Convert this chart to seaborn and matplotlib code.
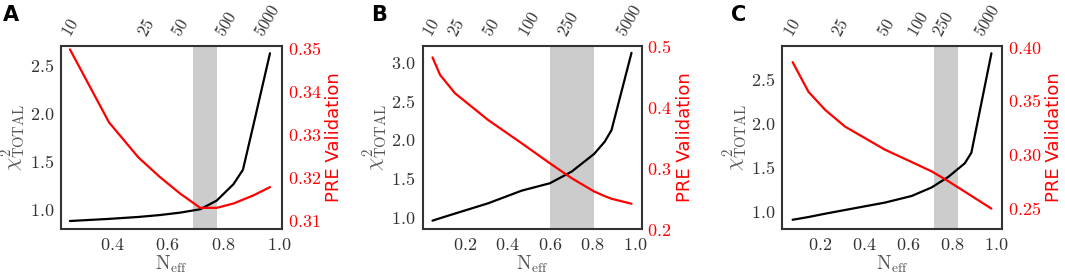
import matplotlib
matplotlib.use("Agg")
import matplotlib.pyplot as plt
from matplotlib.ticker import FixedLocator, FuncFormatter
import pandas as pd
import seaborn as sns

# Panel A
a_neff = [0.25, 0.39, 0.495, 0.573, 0.645, 0.717, 0.776, 0.836, 0.87, 0.908, 0.967]
a_chi2 = [0.878, 0.90, 0.92, 0.94, 0.965, 1.0, 1.09, 1.26, 1.41, 1.88, 2.62]
a_pre = [0.3496, 0.3327, 0.3246, 0.3200, 0.3162, 0.3129, 0.3129, 0.3139, 0.3148, 0.3158, 0.3177]
a_top_pos = [0.25, 0.525, 0.647, 0.81, 0.96]
a_top_lab = ["10", "25", "50", "500", "5000"]
a_band = (0.69, 0.778)

# Panel B
b_neff = [0.047, 0.083, 0.153, 0.309, 0.466, 0.599, 0.701, 0.807, 0.857, 0.889, 0.983]
b_chi2 = [0.948, 0.98, 1.04, 1.173, 1.336, 1.432, 1.582, 1.811, 1.97, 2.12, 3.12]
b_pre = [0.482, 0.453, 0.423, 0.379, 0.341, 0.308, 0.2836, 0.2617, 0.254, 0.2497, 0.2415]
b_top_pos = [0.044, 0.161, 0.325, 0.505, 0.685, 0.975]
b_top_lab = ["10", "25", "50", "100", "250", "5000"]
b_band = (0.6, 0.805)

# Panel C
c_neff = [0.075, 0.147, 0.223, 0.313, 0.494, 0.615, 0.705, 0.781, 0.856, 0.886, 0.977]
c_chi2 = [0.899, 0.93, 0.968, 1.01, 1.094, 1.169, 1.265, 1.385, 1.54, 1.66, 2.79]
c_pre = [0.3855, 0.3578, 0.3409, 0.3254, 0.3039, 0.2924, 0.2838, 0.2746, 0.2648, 0.2609, 0.249]
c_top_pos = [0.072, 0.29, 0.50, 0.645, 0.758, 0.96]
c_top_lab = ["10", "25", "50", "100", "250", "5000"]
c_band = (0.716, 0.826)

sns.set_style("white")
plt.rcParams["mathtext.fontset"] = "cm"
plt.rcParams["font.family"] = ["DejaVu Sans"]

GREY = "#333333"
TS = 13  # tick label size

panels = [
    dict(letter="A", lx=3, neff=a_neff, chi2=a_chi2, pre=a_pre, top_pos=a_top_pos, top_lab=a_top_lab,
         band=a_band, rect=[61, 282], xlim=(0.218, 1.01), xt=[0.4, 0.6, 0.8, 1.0],
         ylim=(0.795, 2.70), yt=[1.0, 1.5, 2.0, 2.5],
         rlim=(0.308, 0.3505), rt=[0.31, 0.32, 0.33, 0.34, 0.35], rfmt="%.2f"),
    dict(letter="B", lx=371, neff=b_neff, chi2=b_chi2, pre=b_pre, top_pos=b_top_pos, top_lab=b_top_lab,
         band=b_band, rect=[422.5, 641.5], xlim=(0.0, 1.03), xt=[0.2, 0.4, 0.6, 0.8, 1.0],
         ylim=(0.84, 3.215), yt=[1.0, 1.5, 2.0, 2.5, 3.0],
         rlim=(0.2, 0.5015), rt=[0.2, 0.3, 0.4, 0.5], rfmt="%.1f"),
    dict(letter="C", lx=731, neff=c_neff, chi2=c_chi2, pre=c_pre, top_pos=c_top_pos, top_lab=c_top_lab,
         band=c_band, rect=[782.5, 1002], xlim=(0.029, 1.025), xt=[0.2, 0.4, 0.6, 0.8, 1.0],
         ylim=(0.794, 2.878), yt=[1.0, 1.5, 2.0, 2.5],
         rlim=(0.23, 0.401), rt=[0.25, 0.30, 0.35, 0.40], rfmt="%.2f"),
]

W, H = 1065, 276
fig = plt.figure(figsize=(W / 100, H / 100), dpi=100)

for p in panels:
    x0, x1 = p["rect"]
    ax = fig.add_axes([x0 / W, 1 - 229 / H, (x1 - x0) / W, (229 - 45.5) / H])
    df = pd.DataFrame({"neff": p["neff"], "chi2": p["chi2"], "pre": p["pre"]})

    ax.axvspan(*p["band"], color="#cccccc", lw=0, zorder=0)
    sns.lineplot(data=df, x="neff", y="chi2", color="black", lw=1.6, ax=ax, sort=False)
    ax.set_xlim(*p["xlim"])
    ax.set_ylim(*p["ylim"])
    ax.xaxis.set_major_locator(FixedLocator(p["xt"]))
    ax.yaxis.set_major_locator(FixedLocator(p["yt"]))
    fmt1 = FuncFormatter(lambda v, pos: "$%.1f$" % v)
    ax.xaxis.set_major_formatter(fmt1)
    ax.yaxis.set_major_formatter(fmt1)
    ax.tick_params(axis="both", length=0, labelsize=TS, colors=GREY, pad=5)
    ax.set_xlabel(r"$\mathrm{N_{eff}}$", fontsize=14, color="#555555", labelpad=0)
    ax.set_ylabel(r"$\chi^2_{\mathrm{TOTAL}}$", fontsize=15, color="#555555", labelpad=1)
    for s in ax.spines.values():
        s.set_color(GREY)
        s.set_linewidth(1.5)

    ax2 = ax.twinx()
    sns.lineplot(data=df, x="neff", y="pre", color="red", lw=1.6, ax=ax2, sort=False)
    ax2.set_ylim(*p["rlim"])
    ax2.yaxis.set_major_locator(FixedLocator(p["rt"]))
    rf = p["rfmt"]
    ax2.yaxis.set_major_formatter(FuncFormatter(lambda v, pos, rf=rf: "$" + (rf % v) + "$"))
    ax2.tick_params(axis="y", length=0, labelsize=TS, colors="red", pad=4)
    ax2.set_ylabel("PRE Validation", fontsize=13, color="red", labelpad=3)
    for s in ax2.spines.values():
        s.set_visible(False)

    top = ax.twiny()
    top.set_xlim(*p["xlim"])
    top.xaxis.set_major_locator(FixedLocator(p["top_pos"]))
    top.set_xticklabels(["$%s$" % t for t in p["top_lab"]], rotation=60)
    top.tick_params(axis="x", length=0, labelsize=12, colors=GREY, pad=4)
    for s in top.spines.values():
        s.set_visible(False)

    fig.text(p["lx"] / W, 1 - 5 / H, p["letter"], fontsize=15, fontweight="bold",
             va="top", ha="left", color="black")

fig.savefig("out.png", dpi=100)
